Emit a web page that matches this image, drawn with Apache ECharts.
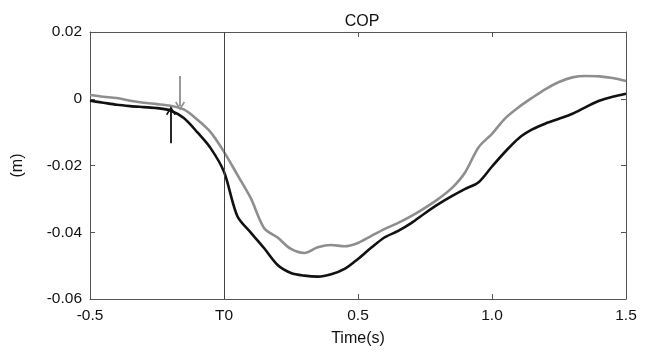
<!DOCTYPE html>
<html>
<head>
<meta charset="utf-8">
<script src="https://cdn.jsdelivr.net/npm/echarts@6/dist/echarts.min.js"></script>
<style>
  html, body { margin: 0; padding: 0; background: #fff; }
  #chart { width: 646px; height: 352px; }
</style>
</head>
<body>
<div id="chart"></div>
<script>
// time grid (s), T0 = 0
const times = [-0.5, -0.45, -0.4, -0.35, -0.3, -0.25, -0.2, -0.15, -0.1, -0.05,
  0, 0.05, 0.1, 0.15, 0.2, 0.25, 0.3, 0.35, 0.4, 0.45,
  0.5, 0.55, 0.6, 0.65, 0.7, 0.75, 0.8, 0.85, 0.9, 0.95,
  1.0, 1.05, 1.1, 1.15, 1.2, 1.25, 1.3, 1.35, 1.4, 1.45, 1.5];

// COP, black trace (m)
const copBlack = [-0.0006, -0.0012, -0.0018, -0.0022, -0.0025, -0.0028, -0.0035, -0.0058, -0.0100, -0.0148,
  -0.0219, -0.0352, -0.0401, -0.0448, -0.0498, -0.0522, -0.0530, -0.0533, -0.0526, -0.0510,
  -0.0480, -0.0446, -0.0415, -0.0396, -0.0372, -0.0343, -0.0316, -0.0292, -0.0270, -0.0250,
  -0.0203, -0.0158, -0.0118, -0.0092, -0.0074, -0.0060, -0.0045, -0.0025, -0.0006, 0.0006, 0.0015];

// COP, grey trace (m)
const copGrey = [0.0011, 0.0006, 0.0002, -0.0006, -0.0012, -0.0016, -0.0021, -0.0032, -0.0062, -0.0100,
  -0.0159, -0.0228, -0.0298, -0.0388, -0.0416, -0.0450, -0.0462, -0.0445, -0.0438, -0.0442,
  -0.0432, -0.0411, -0.0390, -0.0372, -0.0351, -0.0327, -0.0300, -0.0268, -0.0220, -0.0145,
  -0.0105, -0.0058, -0.0025, 0.0003, 0.0029, 0.0050, 0.0064, 0.0068, 0.0067, 0.0062, 0.0053];

// onset arrows: [time, from, to]
const arrowGrey = [-0.164, 0.0068, -0.0022];
const arrowBlack = [-0.198, -0.0133, -0.0036];

const xTicks = { '-0.5': '-0.5', '0': 'T0', '0.5': '0.5', '1': '1.0', '1.5': '1.5' };
const yTicks = { '0.02': '0.02', '0': '0', '-0.02': '-0.02', '-0.04': '-0.04', '-0.06': '-0.06' };

const FONT = 'Liberation Sans, Arial, sans-serif';
const AXIS = '#555';
// open chevron head, like the hand-drawn arrows
const HEAD = 'path://M5,0 L10,9 L8.6,10 L5,3.4 L1.4,10 L0,9 Z';

function pairs(vals) {
  return times.map((t, i) => [t, vals[i]]);
}
function arrow(a) {
  return [{ coord: [a[0], a[1]] }, { coord: [a[0], a[2]] }];
}

const myChart = echarts.init(document.getElementById('chart'));
const option = {
  animation: false,
  title: {
    text: 'COP',
    left: 357,
    top: 9,
    textAlign: 'center',
    textStyle: { fontFamily: FONT, fontSize: 16, fontWeight: 'normal', color: '#111' },
  },
  grid: { left: 90, right: 20, top: 32, bottom: 53 },
  xAxis: [
    {
      type: 'value',
      min: -0.5,
      max: 1.5,
      interval: 0.5,
      name: 'Time(s)',
      nameLocation: 'middle',
      nameGap: 32,
      nameTextStyle: { fontFamily: FONT, fontSize: 16, color: '#111' },
      axisLine: { onZero: false, lineStyle: { color: AXIS, width: 1 } },
      axisTick: { inside: true, length: 5, lineStyle: { color: AXIS } },
      axisLabel: {
        margin: 9,
        fontFamily: FONT,
        fontSize: 15.5,
        color: '#111',
        formatter: v => xTicks[String(v)] ?? '',
      },
      splitLine: { show: false },
    },
    {
      type: 'value',
      position: 'top',
      min: -0.5,
      max: 1.5,
      interval: 0.5,
      axisLine: { onZero: false, lineStyle: { color: AXIS, width: 1 } },
      axisTick: { inside: true, length: 5, lineStyle: { color: AXIS } },
      axisLabel: { show: false },
      splitLine: { show: false },
    },
  ],
  yAxis: [
    {
      type: 'value',
      min: -0.06,
      max: 0.02,
      interval: 0.02,
      name: '(m)',
      nameLocation: 'middle',
      nameGap: 64,
      nameTextStyle: { fontFamily: FONT, fontSize: 16, color: '#111' },
      axisLine: { show: true, onZero: false, lineStyle: { color: AXIS, width: 1 } },
      axisTick: { show: true, inside: true, length: 5, lineStyle: { color: AXIS } },
      axisLabel: {
        margin: 8,
        fontFamily: FONT,
        fontSize: 15.5,
        color: '#111',
        formatter: v => yTicks[String(Math.round(v * 100) / 100)] ?? '',
      },
      splitLine: { show: false },
    },
    {
      type: 'value',
      position: 'right',
      min: -0.06,
      max: 0.02,
      interval: 0.02,
      axisLine: { show: true, onZero: false, lineStyle: { color: AXIS, width: 1 } },
      axisTick: { show: true, inside: true, length: 5, lineStyle: { color: AXIS } },
      axisLabel: { show: false },
      splitLine: { show: false },
    },
  ],
  series: [
    {
      name: 'grey',
      type: 'line',
      data: pairs(copGrey),
      symbol: 'none',
      smooth: 0.3,
      z: 3,
      lineStyle: { color: '#8e8e8e', width: 2.6 },
      markLine: {
        silent: true,
        symbol: ['none', HEAD],
        symbolSize: [10, 9],
        label: { show: false },
        lineStyle: { color: '#8e8e8e', width: 1.8, type: 'solid' },
        data: [arrow(arrowGrey)],
      },
    },
    {
      name: 'black',
      type: 'line',
      data: pairs(copBlack),
      symbol: 'none',
      smooth: 0.3,
      z: 4,
      lineStyle: { color: '#111', width: 2.6 },
      markLine: {
        silent: true,
        symbol: ['none', HEAD],
        symbolSize: [10, 9],
        label: { show: false },
        lineStyle: { color: '#111', width: 1.8, type: 'solid' },
        data: [
          arrow(arrowBlack),
          [{ coord: [0, -0.06], symbol: 'none', lineStyle: { color: '#444', width: 1 } },
           { coord: [0, 0.02], symbol: 'none' }],
        ],
      },
    },
  ],
};
myChart.setOption(option);
</script>
</body>
</html>
